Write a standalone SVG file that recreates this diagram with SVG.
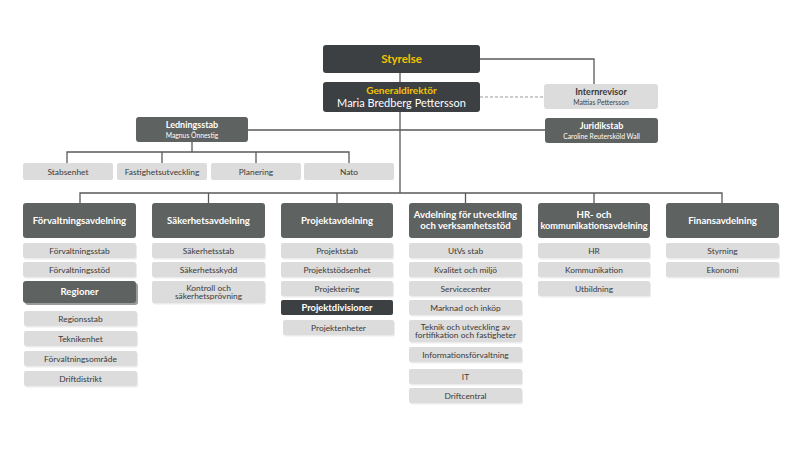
<svg xmlns="http://www.w3.org/2000/svg" width="800" height="450" viewBox="0 0 800 450">
<style>
text{font-family:Lato,"Noto Sans","Liberation Sans",sans-serif;text-anchor:middle}
.top{fill:#3c4043}
.mid{fill:#5e6260}
.lt{fill:#dcdcdc}
.sh{fill:#ececec}
.dsh{fill:#9a9c9b}
.ln{stroke:#5a5a5a;stroke-width:1.3;fill:none}
.dash{stroke:#9a9a9a;stroke-width:1.2;stroke-dasharray:3 2;fill:none}
.yb{fill:#f4c300;font-weight:bold}
.wb{fill:#ffffff;font-weight:bold}
.w{fill:#ffffff}
.s{fill:#3a3a3a;font-size:8.4px}
.h{font-size:9.6px}
.db{fill:#3a3a3a;font-weight:bold}
</style>
<g id="connectors">
<path class="ln" d="M400 73V82M400 112V193M480 59H594V84M248 130H545M192 142V152M67 163V152H349V163M162 152V163M256 152V163"/>
<path class="ln" d="M80 203V193H722V203M208.5 193V203M337 193V203M465.5 193V203M594 193V203"/>
<path class="dash" d="M480 97H544"/>
</g>
<g id="styrelse"><rect class="top" x="323" y="45" width="157" height="28" rx="3"/><text class="yb" x="401.5" y="63" font-size="11.5">Styrelse</text></g>
<g id="generaldirektor"><rect class="top" x="323" y="82" width="157" height="30" rx="3"/><text class="yb" x="401.5" y="93.5" font-size="10">Generaldirektör</text><text class="w" x="401.5" y="106.5" font-size="11">Maria Bredberg Pettersson</text></g>
<g id="internrevisor"><rect class="lt" x="544" y="84" width="114" height="25" rx="3"/><text class="db" x="601" y="95" font-size="9">Internrevisor</text><text x="601" y="104.5" font-size="6.8" fill="#444">Mattias Pettersson</text></g>
<g id="juridikstab"><rect class="mid" x="545" y="118" width="113" height="25" rx="3"/><text class="wb" x="601.5" y="128.5" font-size="9">Juridikstab</text><text class="w" x="601.5" y="138.5" font-size="6.8">Caroline Reutersköld Wall</text></g>
<g id="ledningsstab"><rect class="mid" x="136" y="117" width="112" height="25" rx="3"/><text class="wb" x="192" y="128" font-size="9">Ledningsstab</text><text class="w" x="192" y="137.5" font-size="6.8">Magnus Önnestig</text></g>
<g id="stabsenhet"><rect class="lt" x="23" y="163" width="90" height="17" rx="2"/><text class="s" x="68" y="174.5">Stabsenhet</text></g>
<g id="fastighetsutveckling"><rect class="lt" x="117" y="163" width="90" height="17" rx="2"/><text class="s" x="162" y="174.5">Fastighetsutveckling</text></g>
<g id="planering"><rect class="lt" x="211" y="163" width="90" height="17" rx="2"/><text class="s" x="256" y="174.5">Planering</text></g>
<g id="nato"><rect class="lt" x="304" y="163" width="90" height="17" rx="2"/><text class="s" x="349" y="174.5">Nato</text></g>

<g id="forvaltningsavdelning"><rect class="mid" x="23" y="203" width="113" height="35" rx="3"/><text class="wb h" x="79.5" y="223.8">Förvaltningsavdelning</text></g>
<g id="sakerhetsavdelning"><rect class="mid" x="152" y="203" width="113" height="35" rx="3"/><text class="wb h" x="208.5" y="223.8">Säkerhetsavdelning</text></g>
<g id="projektavdelning"><rect class="mid" x="281" y="203" width="112" height="35" rx="3"/><text class="wb h" x="337" y="223.8">Projektavdelning</text></g>
<g id="utveckling"><rect class="mid" x="409" y="203" width="113" height="35" rx="3"/><text class="wb h" x="465.5" y="217.5">Avdelning för utveckling</text><text class="wb h" x="465.5" y="228.5">och verksamhetsstöd</text></g>
<g id="hr"><rect class="mid" x="538" y="203" width="112" height="35" rx="3"/><text class="wb h" x="594" y="217.5">HR- och</text><text class="wb" x="594" y="228.5" font-size="9.2">kommunikationsavdelning</text></g>
<g id="finansavdelning"><rect class="mid" x="666" y="203" width="113" height="35" rx="3"/><text class="wb h" x="722.5" y="223.8">Finansavdelning</text></g>

<g id="forvaltningsstab"><rect class="sh" x="24" y="244.5" width="113" height="15" rx="2"/><rect class="lt" x="23" y="243" width="113" height="15" rx="2"/><text class="s" x="79.5" y="253.5">Förvaltningsstab</text></g>
<g id="forvaltningsstod"><rect class="sh" x="24" y="263.5" width="113" height="15" rx="2"/><rect class="lt" x="23" y="262" width="113" height="15" rx="2"/><text class="s" x="79.5" y="272.5">Förvaltningsstöd</text></g>
<g id="regioner"><rect class="dsh" x="25" y="283" width="113" height="22" rx="3"/><rect class="mid" x="23" y="281" width="113" height="22" rx="3"/><text class="wb h" x="79.5" y="295.3">Regioner</text></g>
<g id="regionsstab"><rect class="sh" x="25" y="312.5" width="113" height="15" rx="2"/><rect class="lt" x="24" y="311" width="113" height="15" rx="2"/><text class="s" x="80.5" y="321.5">Regionsstab</text></g>
<g id="teknikenhet"><rect class="sh" x="25" y="332.5" width="113" height="15" rx="2"/><rect class="lt" x="24" y="331" width="113" height="15" rx="2"/><text class="s" x="80.5" y="341.5">Teknikenhet</text></g>
<g id="forvaltningsomrade"><rect class="sh" x="25" y="352.5" width="113" height="15" rx="2"/><rect class="lt" x="24" y="351" width="113" height="15" rx="2"/><text class="s" x="80.5" y="361.5">Förvaltningsområde</text></g>
<g id="driftdistrikt"><rect class="sh" x="25" y="372.5" width="113" height="15" rx="2"/><rect class="lt" x="24" y="371" width="113" height="15" rx="2"/><text class="s" x="80.5" y="381.5">Driftdistrikt</text></g>

<g id="sakerhetsstab"><rect class="sh" x="153" y="244.5" width="113" height="15" rx="2"/><rect class="lt" x="152" y="243" width="113" height="15" rx="2"/><text class="s" x="208.5" y="253.5">Säkerhetsstab</text></g>
<g id="sakerhetsskydd"><rect class="sh" x="153" y="263.5" width="113" height="15" rx="2"/><rect class="lt" x="152" y="262" width="113" height="15" rx="2"/><text class="s" x="208.5" y="272.5">Säkerhetsskydd</text></g>
<g id="kontroll"><rect class="sh" x="153" y="282.5" width="113" height="22" rx="2"/><rect class="lt" x="152" y="281" width="113" height="22" rx="2"/><text class="s" x="208.5" y="290.5">Kontroll och</text><text class="s" x="208.5" y="299">säkerhetsprövning</text></g>

<g id="projektstab"><rect class="sh" x="282" y="244.5" width="112" height="15" rx="2"/><rect class="lt" x="281" y="243" width="112" height="15" rx="2"/><text class="s" x="337" y="253.5">Projektstab</text></g>
<g id="projektstodsenhet"><rect class="sh" x="282" y="263.5" width="112" height="15" rx="2"/><rect class="lt" x="281" y="262" width="112" height="15" rx="2"/><text class="s" x="337" y="272.5">Projektstödsenhet</text></g>
<g id="projektering"><rect class="sh" x="282" y="282.5" width="112" height="15" rx="2"/><rect class="lt" x="281" y="281" width="112" height="15" rx="2"/><text class="s" x="337" y="291.5">Projektering</text></g>
<g id="projektdivisioner"><rect class="top" x="281" y="300" width="112" height="15" rx="2"/><text class="wb" x="337" y="310.8" font-size="9.4">Projektdivisioner</text></g>
<g id="projektenheter"><rect class="sh" x="284" y="321.5" width="111" height="15" rx="2"/><rect class="lt" x="283" y="320" width="111" height="15" rx="2"/><text class="s" x="338.5" y="330.5">Projektenheter</text></g>

<g id="utvs-stab"><rect class="sh" x="410" y="244.5" width="113" height="15" rx="2"/><rect class="lt" x="409" y="243" width="113" height="15" rx="2"/><text class="s" x="465.5" y="253.5">UtVs stab</text></g>
<g id="kvalitet"><rect class="sh" x="410" y="263.5" width="113" height="15" rx="2"/><rect class="lt" x="409" y="262" width="113" height="15" rx="2"/><text class="s" x="465.5" y="272.5">Kvalitet och miljö</text></g>
<g id="servicecenter"><rect class="sh" x="410" y="282.5" width="113" height="15" rx="2"/><rect class="lt" x="409" y="281" width="113" height="15" rx="2"/><text class="s" x="465.5" y="291.5">Servicecenter</text></g>
<g id="marknad"><rect class="sh" x="410" y="301.5" width="113" height="15" rx="2"/><rect class="lt" x="409" y="300" width="113" height="15" rx="2"/><text class="s" x="465.5" y="310.5">Marknad och inköp</text></g>
<g id="teknik"><rect class="sh" x="410" y="321.5" width="113" height="22" rx="2"/><rect class="lt" x="409" y="320" width="113" height="22" rx="2"/><text class="s" x="465.5" y="329.5">Teknik och utveckling av</text><text class="s" x="465.5" y="338">fortifikation och fastigheter</text></g>
<g id="informationsforvaltning"><rect class="sh" x="410" y="348.5" width="113" height="15" rx="2"/><rect class="lt" x="409" y="347" width="113" height="15" rx="2"/><text class="s" x="465.5" y="357.5">Informationsförvaltning</text></g>
<g id="it"><rect class="sh" x="410" y="370.5" width="113" height="15" rx="2"/><rect class="lt" x="409" y="369" width="113" height="15" rx="2"/><text class="s" x="465.5" y="379.5">IT</text></g>
<g id="driftcentral"><rect class="sh" x="410" y="389.5" width="113" height="15" rx="2"/><rect class="lt" x="409" y="388" width="113" height="15" rx="2"/><text class="s" x="465.5" y="398.5">Driftcentral</text></g>

<g id="hr-enhet"><rect class="sh" x="539" y="244.5" width="112" height="15" rx="2"/><rect class="lt" x="538" y="243" width="112" height="15" rx="2"/><text class="s" x="594" y="253.5">HR</text></g>
<g id="kommunikation"><rect class="sh" x="539" y="263.5" width="112" height="15" rx="2"/><rect class="lt" x="538" y="262" width="112" height="15" rx="2"/><text class="s" x="594" y="272.5">Kommunikation</text></g>
<g id="utbildning"><rect class="sh" x="539" y="282.5" width="112" height="15" rx="2"/><rect class="lt" x="538" y="281" width="112" height="15" rx="2"/><text class="s" x="594" y="291.5">Utbildning</text></g>

<g id="styrning"><rect class="sh" x="667" y="244.5" width="113" height="15" rx="2"/><rect class="lt" x="666" y="243" width="113" height="15" rx="2"/><text class="s" x="722.5" y="253.5">Styrning</text></g>
<g id="ekonomi"><rect class="sh" x="667" y="263.5" width="113" height="15" rx="2"/><rect class="lt" x="666" y="262" width="113" height="15" rx="2"/><text class="s" x="722.5" y="272.5">Ekonomi</text></g>
</svg>
